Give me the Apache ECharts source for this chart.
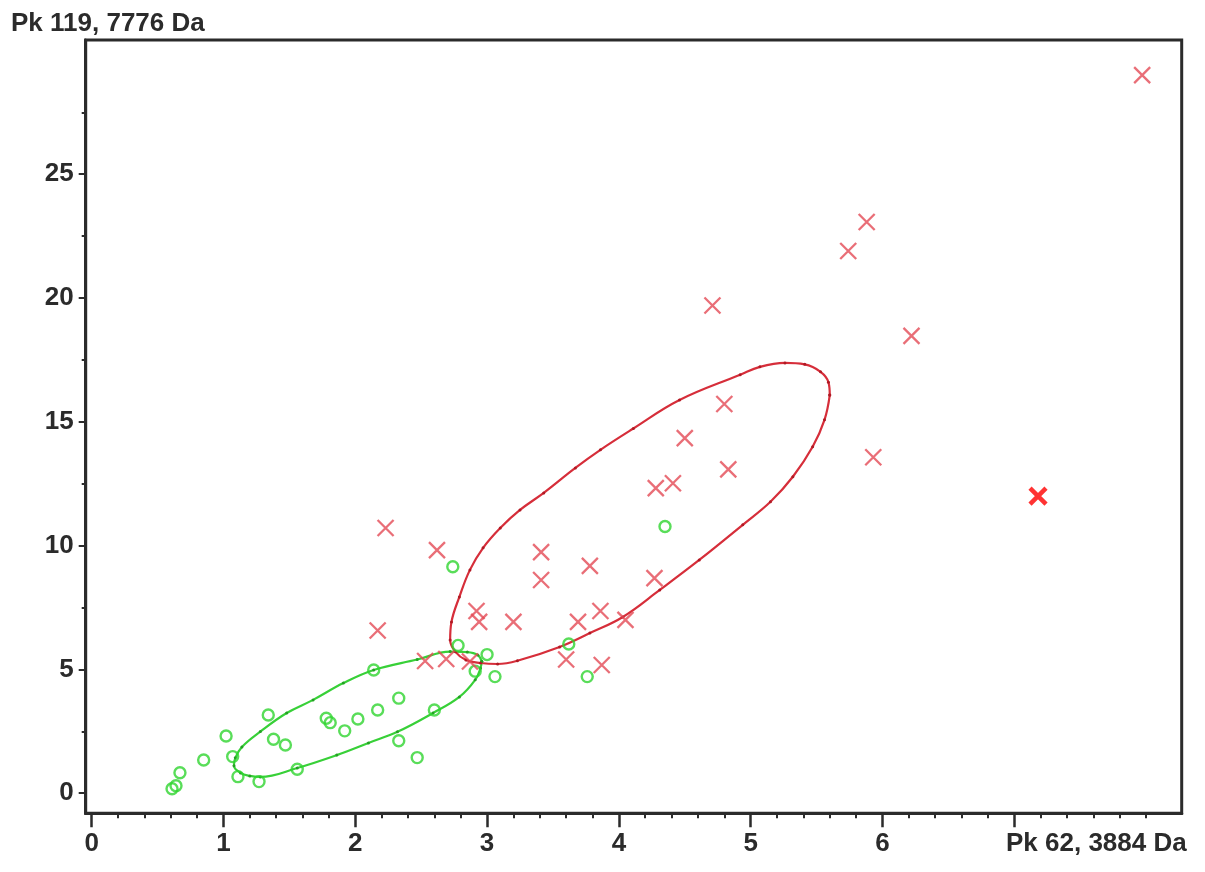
<!DOCTYPE html>
<html>
<head>
<meta charset="utf-8">
<script src="https://cdn.jsdelivr.net/npm/echarts@6/dist/echarts.min.js"></script>
<style>
html,body{margin:0;padding:0;background:#fff;}
#chart{width:1205px;height:872px;}
</style>
</head>
<body>
<div id="chart"></div>
<script>
// ---- data ----
const xAxisTitle = 'Pk 62, 3884 Da';
const yAxisTitle = 'Pk 119, 7776 Da';

const redPoints = [
  [7.97,29.0],[5.88,23.07],[5.74,21.9],[4.71,19.7],[6.22,18.47],[4.80,15.72],
  [4.50,14.34],[4.83,13.08],[5.93,13.57],[4.41,12.52],[4.28,12.32],[2.23,10.71],
  [2.62,9.82],[3.41,9.74],[3.41,8.61],[3.78,9.18],[4.27,8.69],[2.92,7.36],
  [2.94,6.92],[3.20,6.92],[3.69,6.92],[3.86,7.36],[4.05,7.0],[2.17,6.57],
  [3.60,5.40],[3.87,5.18],[2.53,5.34],[2.69,5.42],[2.87,5.32]
];
const redOutlier = [[7.18,12.0]];

const greenPoints = [
  [0.61,0.18],[0.64,0.30],[0.67,0.83],[0.85,1.34],[1.02,2.31],[1.07,1.48],
  [1.11,0.67],[1.27,0.47],[1.56,0.97],[1.34,3.16],[1.38,2.18],[1.47,1.95],
  [1.78,3.03],[1.81,2.85],[1.92,2.52],[2.02,3.00],[2.17,3.36],[2.33,3.84],
  [2.33,2.12],[2.14,4.98],[2.47,1.44],[2.60,3.36],[2.91,4.93],[3.00,5.60],
  [3.06,4.71],[2.78,5.97],[2.74,9.15],[3.62,6.03],[3.76,4.71],[4.35,10.77]
];

const redEllipse = [
  [5.60,16.08],[5.59,16.60],[5.53,17.02],[5.41,17.32],[5.26,17.38],[5.07,17.22],
  [4.92,16.9],[4.46,15.88],[4.11,14.73],[3.86,13.87],[3.67,13.14],[3.43,12.13],
  [3.25,11.44],[3.10,10.71],[2.97,9.91],[2.87,9.02],[2.79,7.93],[2.73,6.92],
  [2.72,6.19],[2.76,5.71],[2.84,5.38],[2.95,5.26],[3.08,5.22],[3.23,5.35],
  [3.55,5.91],[3.78,6.47],[4.03,7.12],[4.31,8.21],[4.61,9.42],[4.94,10.84],
  [5.15,11.77],[5.32,12.78],[5.47,13.99],[5.56,15.08],[5.60,16.08]
];

const greenEllipse = [
  [2.96,5.32],[2.93,5.58],[2.85,5.70],[2.72,5.72],[2.47,5.40],[2.14,4.98],
  [1.91,4.45],[1.68,3.77],[1.48,3.24],[1.28,2.49],[1.14,1.87],[1.09,1.43],
  [1.08,1.11],[1.13,0.82],[1.20,0.70],[1.28,0.66],[1.56,1.02],[1.86,1.54],
  [2.10,2.03],[2.32,2.48],[2.59,3.24],[2.79,3.89],[2.91,4.58],[2.95,5.05],
  [2.96,5.32]
];

const xMajorTicks = [0,1,2,3,4,5,6,7];
const xTickLabels = [0,1,2,3,4,5,6];
const xMinorTicks = [0.2,0.4,0.6,0.8,1.2,1.4,1.6,1.8,2.2,2.4,2.6,2.8,3.2,3.4,3.6,3.8,
  4.2,4.4,4.6,4.8,5.2,5.4,5.6,5.8,6.2,6.4,6.6,6.8,7.2,7.4,7.6,7.8,8.0];
const yMajorTicks = [0,5,10,15,20,25];
const yMinorTicks = [2.5,7.5,12.5,17.5,22.5,27.5];

const X_MIN = -0.045, X_MAX = 8.27, Y_MIN = -0.81, Y_MAX = 30.42;

// ---- chart ----
const FONT = '"Liberation Sans", Arial, sans-serif';
const AX = '#2b2b2b';
const chart = echarts.init(document.getElementById('chart'), null, {renderer:'canvas'});
const labelStyle = {fontFamily: FONT, fontWeight: 'bold', fontSize: 26, color: '#2b2b2b'};

chart.setOption({
  animation: false,
  backgroundColor: '#ffffff',
  title: [
    {text: yAxisTitle, left: 11, top: 11, padding: 0, textStyle: labelStyle},
    {text: xAxisTitle, left: 1006, top: 831, padding: 0, textStyle: labelStyle}
  ],
  grid: {left: 85.7, top: 40, right: 23.3, bottom: 58.7, show: true,
         borderColor: AX, borderWidth: 3, backgroundColor: 'transparent', containLabel: false},
  xAxis: [
    {type: 'value', min: X_MIN, max: X_MAX, position: 'bottom',
     axisLine: {show: true, onZero: false, lineStyle: {color: AX, width: 3}},
     axisTick: {show: true, customValues: xMajorTicks, length: 14, lineStyle: {color: AX, width: 2.5}},
     axisLabel: {show: true, customValues: xTickLabels, margin: 18, ...labelStyle},
     splitLine: {show: false}, minorTick: {show: false}},
    {type: 'value', min: X_MIN, max: X_MAX, position: 'bottom',
     axisLine: {show: false, onZero: false},
     axisTick: {show: true, customValues: xMinorTicks, length: 5, lineStyle: {color: AX, width: 2}},
     axisLabel: {show: false}, splitLine: {show: false}}
  ],
  yAxis: [
    {type: 'value', min: Y_MIN, max: Y_MAX, position: 'left',
     axisLine: {show: true, onZero: false, lineStyle: {color: AX, width: 3}},
     axisTick: {show: true, customValues: yMajorTicks, length: 7, lineStyle: {color: AX, width: 2}},
     axisLabel: {show: true, customValues: yMajorTicks, margin: 12, ...labelStyle},
     splitLine: {show: false}, minorTick: {show: false}},
    {type: 'value', min: Y_MIN, max: Y_MAX, position: 'left',
     axisLine: {show: false, onZero: false},
     axisTick: {show: true, customValues: yMinorTicks, length: 4, lineStyle: {color: AX, width: 2}},
     axisLabel: {show: false}, splitLine: {show: false}}
  ],
  series: [
    {type: 'line', data: greenEllipse, smooth: 0.4, xAxisIndex: 0, yAxisIndex: 0,
     lineStyle: {color: '#38d038', width: 2.2}, symbol: 'circle', symbolSize: 3,
     itemStyle: {color: '#24a024'}, z: 2},
    {type: 'line', data: redEllipse, smooth: 0.4, xAxisIndex: 0, yAxisIndex: 0,
     lineStyle: {color: '#d62e3a', width: 2.2}, symbol: 'circle', symbolSize: 3,
     itemStyle: {color: '#b01a24'}, z: 2},
    {type: 'scatter', data: greenPoints, xAxisIndex: 0, yAxisIndex: 0,
     symbol: 'circle', symbolSize: 11,
     itemStyle: {color: 'rgba(0,0,0,0)', borderColor: '#30d430', borderWidth: 2.4}, z: 3},
    {type: 'scatter', data: redPoints, xAxisIndex: 0, yAxisIndex: 0,
     symbol: 'path://M0,0 L10,10 M10,0 L0,10', symbolSize: 16,
     itemStyle: {color: 'rgba(0,0,0,0)', borderColor: '#e44a55', borderWidth: 2.3}, z: 4},
    {type: 'scatter', data: redOutlier, xAxisIndex: 0, yAxisIndex: 0,
     symbol: 'path://M0,0 L10,10 M10,0 L0,10', symbolSize: 16,
     itemStyle: {color: 'rgba(0,0,0,0)', borderColor: '#ff0000', borderWidth: 4.5}, z: 5}
  ]
});
</script>
</body>
</html>
